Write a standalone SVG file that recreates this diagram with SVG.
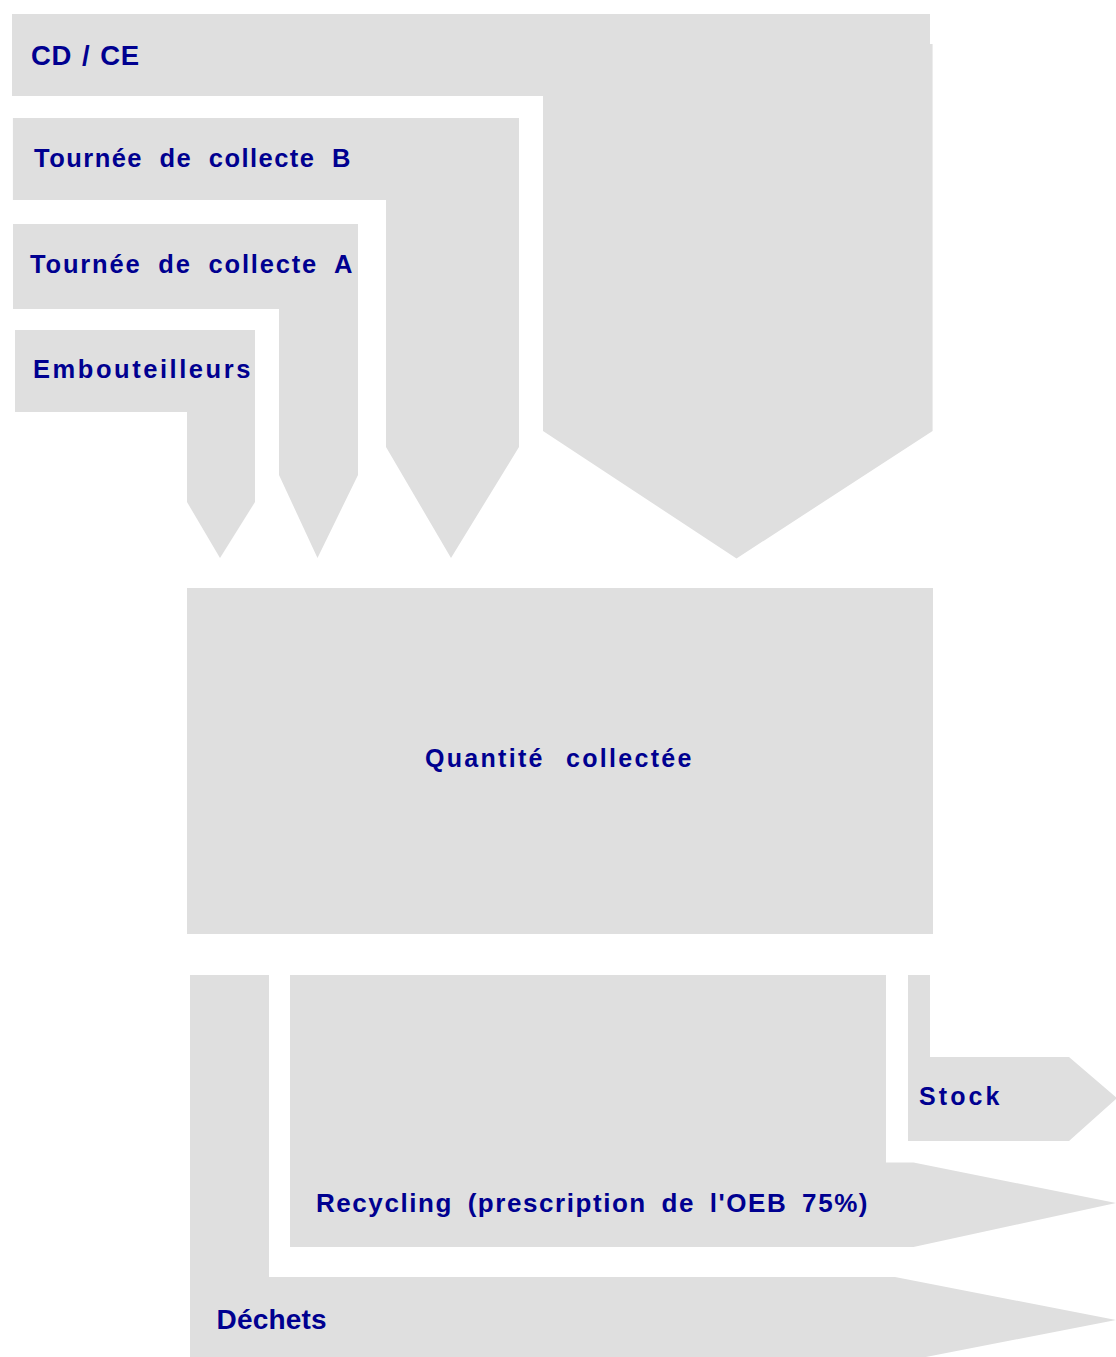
<svg xmlns="http://www.w3.org/2000/svg" width="1116" height="1357" viewBox="0 0 1116 1357">
<style>
.f{fill:#dfdfdf;stroke:none}
.t{font-family:"Liberation Sans",Arial,sans-serif;font-weight:bold;font-size:25.5px;fill:#000090;letter-spacing:1.6px}
</style>
<rect x="0" y="0" width="1116" height="1357" fill="#ffffff"/>
<g id="connectors"></g>
<g id="node-cdce">
<polygon class="f" points="12,14 930,14 930,44 932.6,44 932.6,431 736.5,558.5 543,431 543,96 12,96"/>
<text class="t" x="31" y="64.5" textLength="108" lengthAdjust="spacing" style="font-size:27.5px;letter-spacing:0;word-spacing:2px">CD / CE</text>
</g>
<g id="node-tournee-b">
<polygon class="f" points="12.9,118 519,118 519,447 451,558 386,447 386,200 12.9,200"/>
<text class="t" x="34" y="167" textLength="318" lengthAdjust="spacing" style="word-spacing:8px">Tournée de collecte B</text>
</g>
<g id="node-tournee-a">
<polygon class="f" points="13,224 358,224 358,475 317.5,558 279,475 279,309 13,309"/>
<text class="t" x="30" y="273" textLength="324" lengthAdjust="spacing" style="word-spacing:8px">Tournée de collecte A</text>
</g>
<g id="node-embouteilleurs">
<polygon class="f" points="15,330 255,330 255,502 220,558 187,502 187,412 15,412"/>
<text class="t" x="33" y="378" textLength="219" lengthAdjust="spacing">Embouteilleurs</text>
</g>
<g id="node-quantite">
<rect class="f" x="187" y="588" width="746" height="346"/>
<text class="t" x="425" y="767" textLength="268" lengthAdjust="spacing" style="font-size:25px;word-spacing:12px">Quantité collectée</text>
</g>
<g id="node-dechets">
<polygon class="f" points="190,975 269,975 269,1277 895,1277 1116,1320 895,1363 190,1363"/>
<text class="t" x="216.5" y="1328.5" textLength="110" lengthAdjust="spacing" style="font-size:28px;letter-spacing:0">Déchets</text>
</g>
<g id="node-recycling">
<polygon class="f" points="290,975 886,975 886,1162.5 913.5,1162.5 1116,1203 913.5,1247 290,1247"/>
<text class="t" x="316" y="1211.5" textLength="553" lengthAdjust="spacing" style="font-size:26px;letter-spacing:1.5px;word-spacing:6px">Recycling (prescription de l'OEB 75%)</text>
</g>
<g id="node-stock">
<polygon class="f" points="908,975 930,975 930,1057 1069,1057 1117,1098 1069,1141 908,1141"/>
<text class="t" x="919" y="1104.5" textLength="82" lengthAdjust="spacing" style="font-size:25px">Stock</text>
</g>
</svg>
